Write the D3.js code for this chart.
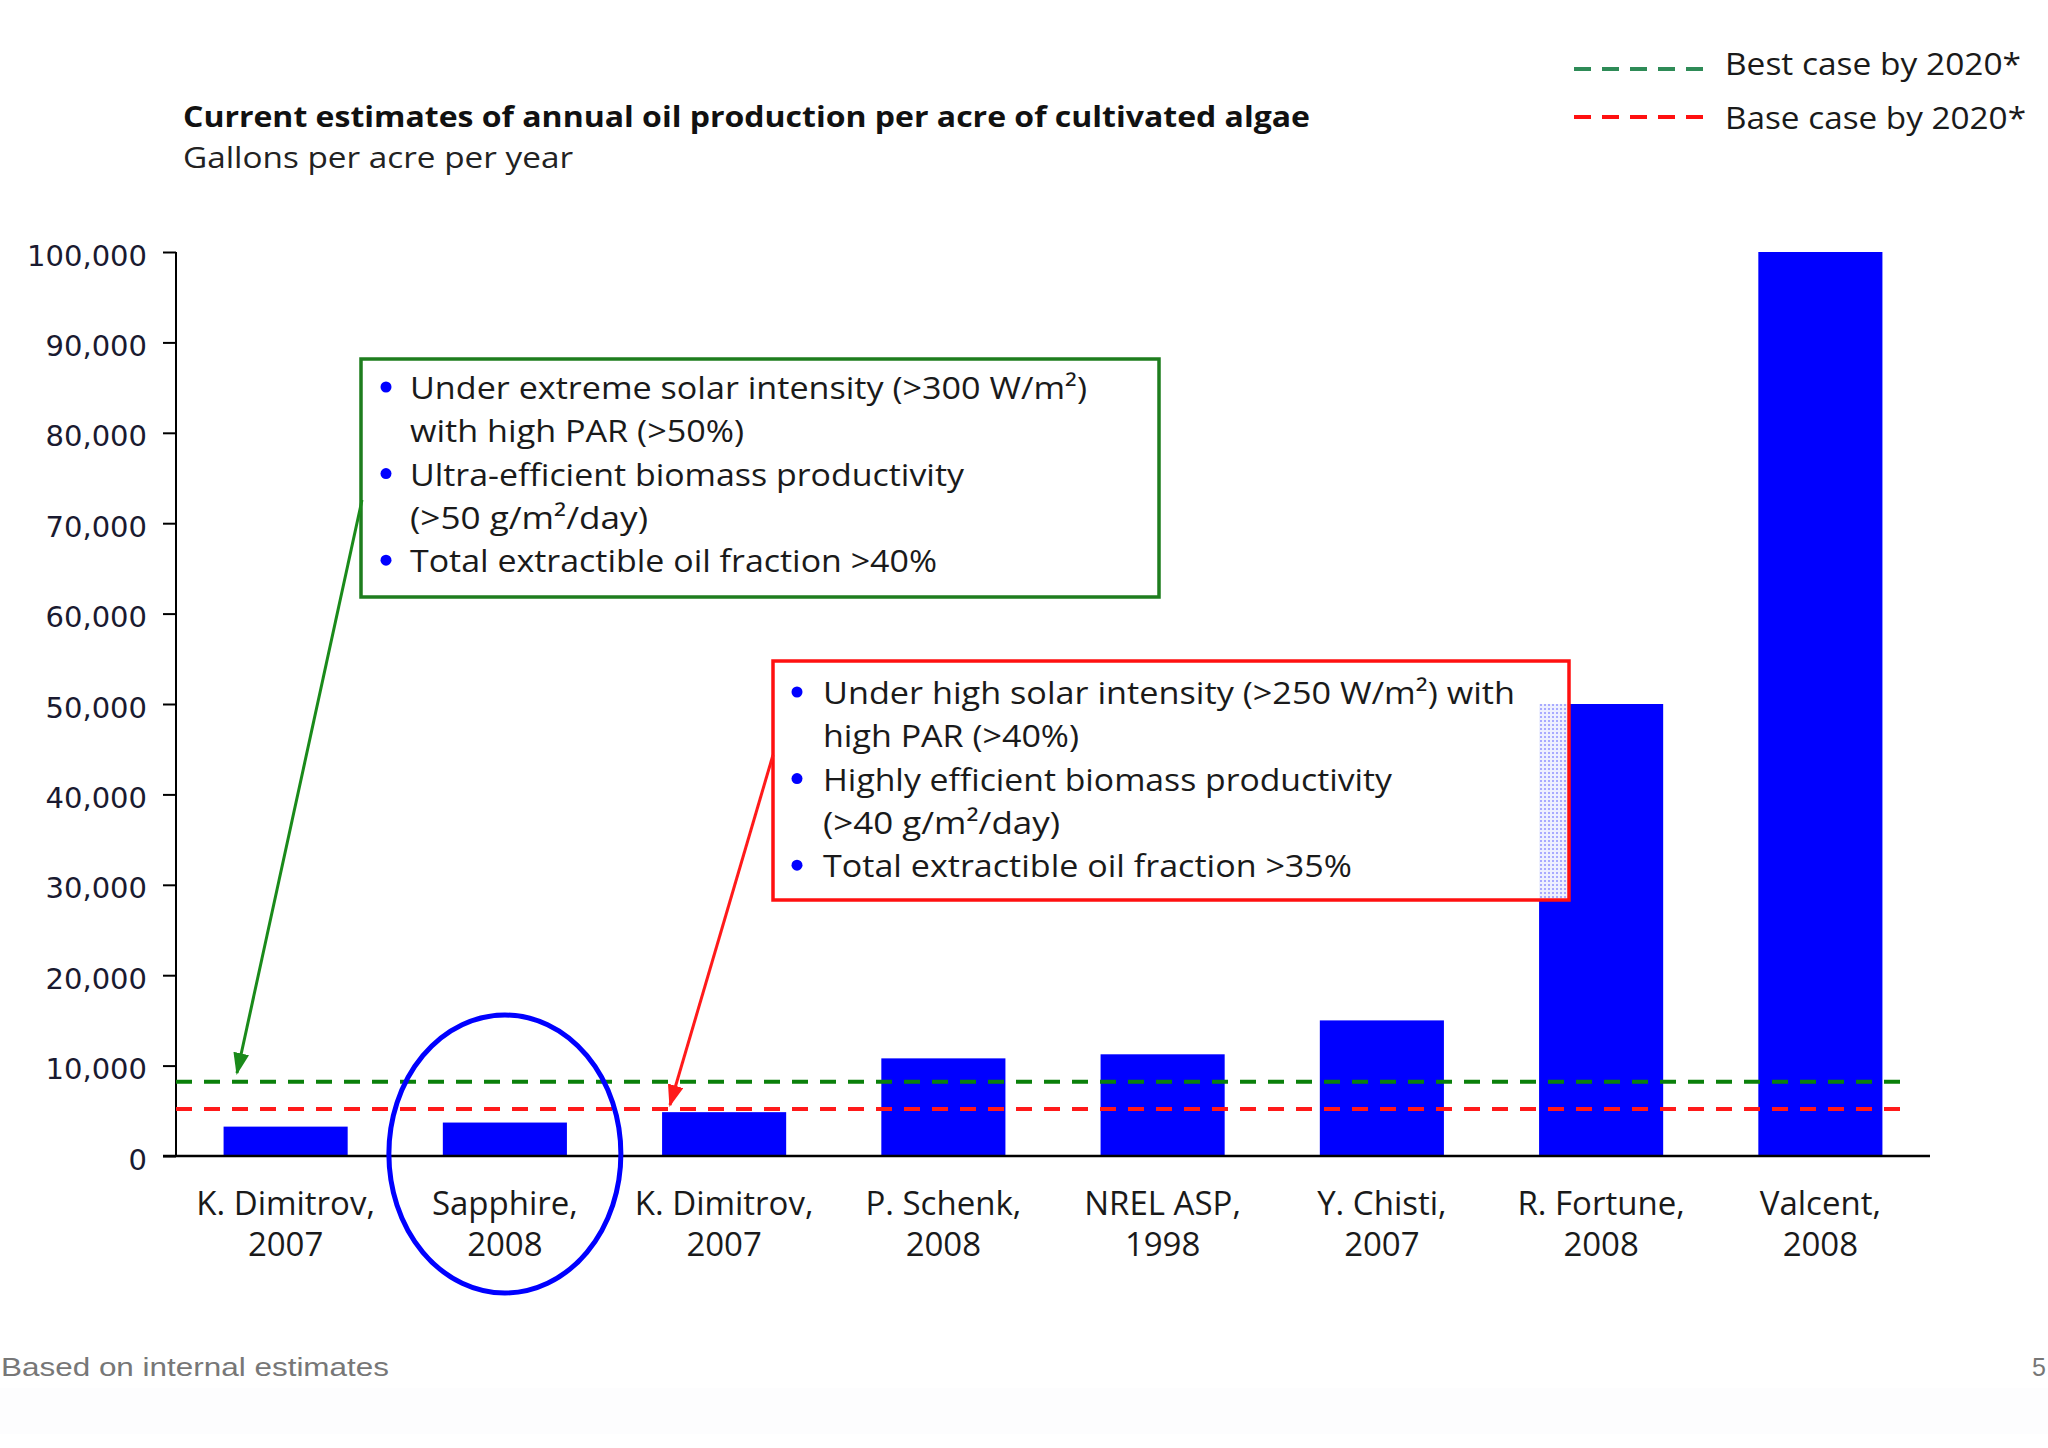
<!DOCTYPE html>
<html>
<head>
<meta charset="utf-8">
<script src="https://cdn.jsdelivr.net/npm/d3@7"></script>
<style>
  html, body { margin: 0; padding: 0; background: #ffffff; }
  svg { display: block; }
</style>
</head>
<body>
<svg id="chart" width="2048" height="1448"></svg>
<script>
// ---------------- DATA ----------------
const categoriesLine1 = ["K. Dimitrov,", "Sapphire,", "K. Dimitrov,", "P. Schenk,", "NREL ASP,", "Y. Chisti,", "R. Fortune,", "Valcent,"];
const categoriesLine2 = ["2007", "2008", "2007", "2008", "1998", "2007", "2008", "2008"];
const values = [3250, 3700, 4850, 10800, 11250, 15000, 50000, 100000];
const yTickValues = [0, 10000, 20000, 30000, 40000, 50000, 60000, 70000, 80000, 90000, 100000];
const bestCase = 8200;
const baseCase = 5200;
const legendLabels = ["Best case by 2020*", "Base case by 2020*"];
const greenBoxLines = [
  ["Under extreme solar intensity (>300 W/m²)", true],
  ["with high PAR (>50%)", false],
  ["Ultra-efficient biomass productivity", true],
  ["(>50 g/m²/day)", false],
  ["Total extractible oil fraction >40%", true]
];
const redBoxLines = [
  ["Under high solar intensity (>250 W/m²) with", true],
  ["high PAR (>40%)", false],
  ["Highly efficient biomass productivity", true],
  ["(>40 g/m²/day)", false],
  ["Total extractible oil fraction >35%", true]
];
const titleText = "Current estimates of annual oil production per acre of cultivated algae";
const subtitleText = "Gallons per acre per year";
const footnoteText = "Based on internal estimates";

// ---------------- LAYOUT ----------------
const svg = d3.select("#chart");
const W = 2048, H = 1448;
const plot = { left: 176, right: 1930, top: 252, bottom: 1156 };
const sansFont = "'Open Sans', 'Noto Sans', sans-serif";

const idx = d3.range(values.length);
const x = d3.scaleBand().domain(idx).range([plot.left, plot.right]).paddingInner(0.434).paddingOuter(0.217);
const y = d3.scaleLinear().domain([0, 100000]).range([plot.bottom, plot.top]);

// defs
const defs = svg.append("defs");
const pat = defs.append("pattern").attr("id", "dots").attr("patternUnits", "userSpaceOnUse")
  .attr("width", 4).attr("height", 4);
pat.append("rect").attr("width", 4).attr("height", 4).attr("fill", "#eef0ff");
pat.append("rect").attr("width", 2).attr("height", 2).attr("fill", "#a8aaff");

function marker(id, color) {
  defs.append("marker").attr("id", id).attr("markerUnits", "userSpaceOnUse")
    .attr("viewBox", "0 0 22 16").attr("markerWidth", 22).attr("markerHeight", 16)
    .attr("refX", 20).attr("refY", 8).attr("orient", "auto")
    .append("path").attr("d", "M0,0 L22,8 L0,16 Z").attr("fill", color);
}
marker("arrowGreen", "#1a8a1a");
marker("arrowRed", "#ff1a1a");

// very faint footer band
svg.append("rect").attr("x", 0).attr("y", 1388).attr("width", W).attr("height", 46).attr("fill", "#fdfdfe");

// title
svg.append("text").attr("x", 183).attr("y", 127).attr("font-family", sansFont).attr("font-weight", "bold")
  .attr("font-size", 29).attr("fill", "#111").attr("textLength", 1127).attr("lengthAdjust", "spacingAndGlyphs")
  .text(titleText);
svg.append("text").attr("x", 183).attr("y", 168).attr("font-family", sansFont)
  .attr("font-size", 29).attr("fill", "#222").attr("textLength", 390).attr("lengthAdjust", "spacingAndGlyphs")
  .text(subtitleText);

// legend
const legendColors = ["#2e8b57", "#ff1010"];
const legendY = [69, 117];
const legendTextY = [75, 129];
legendLabels.forEach((lab, i) => {
  svg.append("line").attr("x1", 1574).attr("x2", 1706).attr("y1", legendY[i]).attr("y2", legendY[i])
    .attr("stroke", legendColors[i]).attr("stroke-width", 4).attr("stroke-dasharray", "17,11");
  svg.append("text").attr("x", 1725).attr("y", legendTextY[i]).attr("font-family", sansFont)
    .attr("font-size", 31).attr("fill", "#1a1a1a").attr("textLength", i === 0 ? 296 : 301)
    .attr("lengthAdjust", "spacingAndGlyphs").text(lab);
});

// bars
svg.append("g").selectAll("rect").data(values).join("rect")
  .attr("x", (d, i) => x(i)).attr("width", x.bandwidth())
  .attr("y", d => y(d)).attr("height", d => y(0) - y(d))
  .attr("fill", "#0000ff");

// y axis
const yAxis = d3.axisLeft(y).tickValues(yTickValues).tickFormat(d3.format(",")).tickSize(13).tickPadding(16);
const gy = svg.append("g").attr("transform", `translate(${plot.left},0)`).call(yAxis);
gy.select(".domain").attr("stroke", "#000").attr("stroke-width", 2).attr("d", `M0,${plot.top}V${plot.bottom}`);
gy.selectAll(".tick line").attr("stroke", "#000").attr("stroke-width", 2);
gy.selectAll(".tick text").attr("font-family", "'DejaVu Sans', Verdana, sans-serif").attr("font-size", 29)
  .attr("fill", "#1a1a30").attr("dy", "0.45em");

// x baseline
svg.append("line").attr("x1", plot.left - 13).attr("x2", plot.right).attr("y1", y(0)).attr("y2", y(0))
  .attr("stroke", "#000").attr("stroke-width", 2.5);

// x labels
const xl = svg.append("g").attr("font-family", sansFont).attr("font-size", 33).attr("fill", "#1a1a1a")
  .attr("text-anchor", "middle");
idx.forEach(i => {
  const cx = x(i) + x.bandwidth() / 2;
  xl.append("text").attr("x", cx).attr("y", 1215).text(categoriesLine1[i]);
  xl.append("text").attr("x", cx).attr("y", 1256).text(categoriesLine2[i]);
});

// reference dashed lines
svg.append("line").attr("x1", plot.left).attr("x2", 1912).attr("y1", y(bestCase)).attr("y2", y(bestCase))
  .attr("stroke", "#0a800a").attr("stroke-width", 4).attr("stroke-dasharray", "16,12");
svg.append("line").attr("x1", plot.left).attr("x2", 1912).attr("y1", y(baseCase)).attr("y2", y(baseCase))
  .attr("stroke", "#ff1a1a").attr("stroke-width", 4).attr("stroke-dasharray", "16,12");

// annotation boxes
function box(b, color, lines) {
  svg.append("rect").attr("x", b.x).attr("y", b.y).attr("width", b.w).attr("height", b.h)
    .attr("fill", "#ffffff");
  if (b.overlap) {
    svg.append("rect").attr("x", b.overlap.x).attr("y", b.overlap.y).attr("width", b.overlap.w)
      .attr("height", b.overlap.h).attr("fill", "url(#dots)");
  }
  svg.append("rect").attr("x", b.x).attr("y", b.y).attr("width", b.w).attr("height", b.h)
    .attr("fill", "none").attr("stroke", color).attr("stroke-width", 3.5);
  lines.forEach((ln, i) => {
    const by = b.base + i * 43.3;
    if (ln[1]) {
      svg.append("circle").attr("cx", b.bx).attr("cy", by - 12).attr("r", 5.5).attr("fill", "#0000ff");
    }
    svg.append("text").attr("x", b.tx).attr("y", by).attr("font-family", sansFont).attr("font-size", 31)
      .attr("fill", "#1a1a1a").attr("textLength", b.widths[i]).attr("lengthAdjust", "spacingAndGlyphs")
      .text(ln[0]);
  });
}
box({ x: 361, y: 359, w: 798, h: 238, base: 399, bx: 386, tx: 410, widths: [677, 334, 554, 238, 527] },
  "#1e7d1e", greenBoxLines);

const fi = 6; // R. Fortune bar partly under the red box
const redB = { x: 773, y: 661, w: 796, h: 239 };
redB.overlap = { x: x(fi), y: y(values[fi]), w: redB.x + redB.w - x(fi), h: redB.y + redB.h - y(values[fi]) };
box(Object.assign(redB, { base: 704, bx: 797, tx: 823, widths: [692, 256, 569, 237, 529] }),
  "#ff1010", redBoxLines);

// arrows
svg.append("line").attr("x1", 362).attr("y1", 500).attr("x2", 237).attr("y2", 1073)
  .attr("stroke", "#1a8a1a").attr("stroke-width", 3).attr("marker-end", "url(#arrowGreen)");
svg.append("line").attr("x1", 773).attr("y1", 755).attr("x2", 670).attr("y2", 1105)
  .attr("stroke", "#ff1a1a").attr("stroke-width", 3).attr("marker-end", "url(#arrowRed)");

// highlight ellipse around Sapphire
svg.append("ellipse").attr("cx", x(1) + x.bandwidth() / 2).attr("cy", 1154).attr("rx", 116).attr("ry", 139)
  .attr("fill", "none").attr("stroke", "#0000ff").attr("stroke-width", 5);

// footnote
svg.append("text").attr("x", 1).attr("y", 1376).attr("font-family", "'Liberation Sans', Arial, sans-serif")
  .attr("font-size", 25).attr("fill", "#777").attr("textLength", 388).attr("lengthAdjust", "spacingAndGlyphs")
  .text(footnoteText);
svg.append("text").attr("x", 2046).attr("y", 1376).attr("text-anchor", "end")
  .attr("font-family", "'Liberation Sans', Arial, sans-serif")
  .attr("font-size", 25).attr("fill", "#777").text("5");
</script>
</body>
</html>
